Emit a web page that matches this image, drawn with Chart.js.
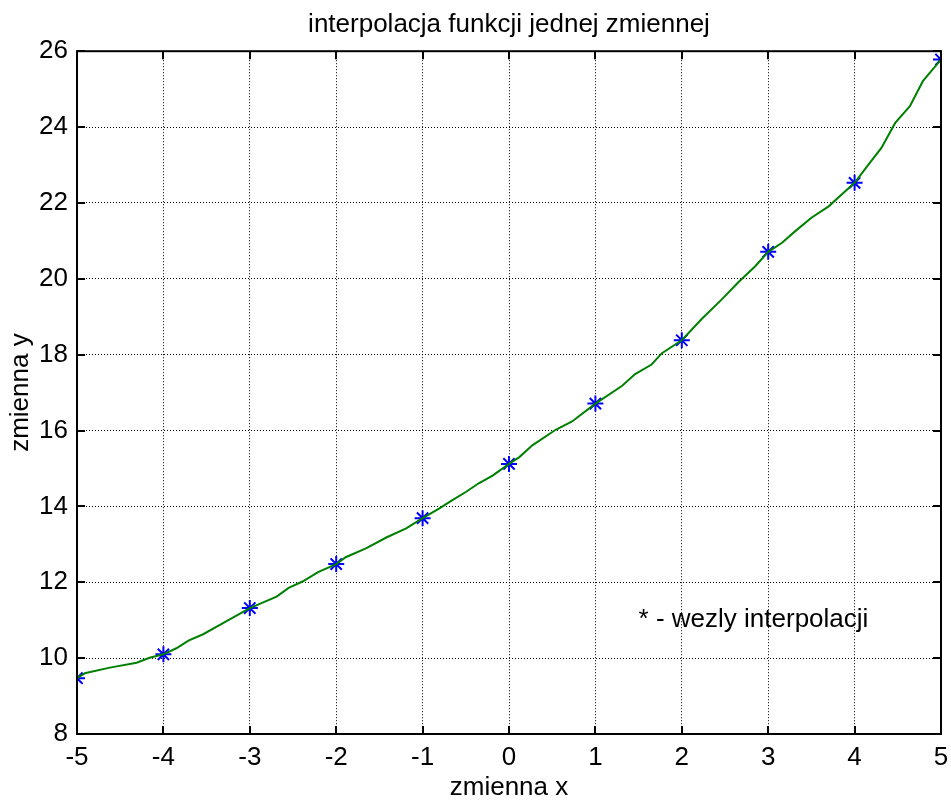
<!DOCTYPE html>
<html>
<head>
<meta charset="utf-8">
<title>interpolacja funkcji jednej zmiennej</title>
<script src="https://cdn.jsdelivr.net/npm/chart.js@4/dist/chart.umd.min.js"></script>
<style>
  html, body { margin: 0; padding: 0; background: #ffffff; }
  #chart { display: block; }
</style>
</head>
<body>
<canvas id="chart" width="951" height="803"></canvas>
<script>
// Interpolation nodes (blue stars)
const nodeX = [-5, -4, -3, -2, -1, 0, 1, 2, 3, 4, 5];
const nodeY = [9.47, 10.10, 11.32, 12.48, 13.69, 15.12, 16.71, 18.38, 20.71, 22.53, 25.78];

// Interpolating curve (green line)
const curveX = [-5.00, -4.91, -4.62, -4.31, -4.16, -4.00, -3.85, -3.71, -3.54, -3.31,
                -3.00, -2.69, -2.55, -2.39, -2.21, -2.00, -1.89, -1.65, -1.42, -1.19,
                -1.00, -0.81, -0.65, -0.50, -0.35, -0.19, 0.00, 0.12, 0.27, 0.54,
                0.73, 1.00, 1.31, 1.46, 1.65, 1.77, 2.00, 2.23, 2.46, 2.66,
                2.85, 3.00, 3.16, 3.31, 3.50, 3.70, 3.85, 4.00, 4.16, 4.31,
                4.47, 4.64, 4.79, 5.00];
const curveY = [9.47, 9.60, 9.75, 9.88, 10.01, 10.10, 10.26, 10.46, 10.63, 10.92,
                11.32, 11.62, 11.85, 12.02, 12.27, 12.48, 12.66, 12.90, 13.18, 13.42,
                13.69, 13.94, 14.17, 14.38, 14.61, 14.81, 15.12, 15.30, 15.61, 16.02,
                16.24, 16.71, 17.18, 17.49, 17.74, 18.04, 18.38, 18.94, 19.45, 19.92,
                20.33, 20.71, 20.95, 21.25, 21.61, 21.91, 22.22, 22.53, 23.01, 23.45,
                24.11, 24.55, 25.21, 25.78];

// Axis ranges and tick steps
const xRange = [-5, 5];
const yRange = [8, 26];
const xStep = 1;
const yStep = 2;

// Texts
const titleText = 'interpolacja funkcji jednej zmiennej';
const xLabel = 'zmienna x';
const yLabel = 'zmienna y';
const noteText = '* - wezly interpolacji';
const notePos = { x: 1.5, y: 11 };

const FONT = '"Liberation Sans", Arial, Helvetica, sans-serif';
const FONT_SIZE = 26;

const curvePoints = curveX.map((x, i) => ({ x: x, y: curveY[i] }));
const nodePoints = nodeX.map((x, i) => ({ x: x, y: nodeY[i] }));

// Axes box with inward tick marks on all four sides, plus the note text
const boxPlugin = {
  id: 'boxPlugin',
  afterDatasetsDraw(chart) {
    const ctx = chart.ctx;
    const xs = chart.scales.x;
    const ys = chart.scales.y;
    ctx.save();
    ctx.fillStyle = '#000';
    ctx.font = FONT_SIZE + 'px ' + FONT;
    ctx.textAlign = 'left';
    ctx.textBaseline = 'middle';
    ctx.fillText(noteText, xs.getPixelForValue(notePos.x), ys.getPixelForValue(notePos.y));
    ctx.restore();
  },
  afterDraw(chart) {
    const ctx = chart.ctx;
    const { left, right, top, bottom } = chart.chartArea;
    const xs = chart.scales.x;
    const ys = chart.scales.y;
    const tl = 8;
    ctx.save();
    ctx.strokeStyle = '#000';
    ctx.lineWidth = 2;
    ctx.beginPath();
    xs.ticks.forEach(t => {
      const px = Math.round(xs.getPixelForValue(t.value));
      ctx.moveTo(px, bottom); ctx.lineTo(px, bottom - tl);
      ctx.moveTo(px, top); ctx.lineTo(px, top + tl);
    });
    ys.ticks.forEach(t => {
      const py = Math.round(ys.getPixelForValue(t.value));
      ctx.moveTo(left, py); ctx.lineTo(left + tl, py);
      ctx.moveTo(right, py); ctx.lineTo(right - tl, py);
    });
    ctx.stroke();
    ctx.strokeRect(left, top, right - left, bottom - top);
    ctx.restore();
  }
};

new Chart(document.getElementById('chart'), {
  type: 'scatter',
  data: {
    datasets: [
      {
        label: 'interpolacja',
        data: curvePoints,
        showLine: true,
        borderColor: 'rgb(0,128,0)',
        borderWidth: 2,
        pointRadius: 0,
        tension: 0,
        fill: false
      },
      {
        label: 'wezly',
        data: nodePoints,
        showLine: false,
        pointStyle: 'star',
        pointRadius: 8,
        borderColor: 'rgb(0,0,255)',
        backgroundColor: 'rgb(0,0,255)',
        pointBorderWidth: 2
      }
    ]
  },
  options: {
    responsive: false,
    animation: false,
    devicePixelRatio: 1,
    layout: { padding: { left: 0, right: 8, top: 0, bottom: 0 } },
    plugins: {
      legend: { display: false },
      tooltip: { enabled: false },
      title: {
        display: true,
        text: titleText,
        fullSize: false,
        color: '#000',
        font: { family: FONT, size: FONT_SIZE, weight: 'normal' },
        padding: { top: 9, bottom: 11 }
      }
    },
    scales: {
      x: {
        type: 'linear',
        min: xRange[0],
        max: xRange[1],
        afterFit(scale) {
          scale.height = 69;
          scale.paddingLeft = 0;
          scale.paddingRight = 0;
        },
        ticks: {
          stepSize: xStep,
          color: '#000',
          padding: 8,
          font: { family: FONT, size: FONT_SIZE }
        },
        grid: { color: '#000', lineWidth: 1, drawTicks: false },
        border: { display: false, dash: [1, 2] },
        title: {
          display: true,
          text: xLabel,
          color: '#000',
          font: { family: FONT, size: FONT_SIZE },
          padding: { top: 0, bottom: 0 }
        }
      },
      y: {
        type: 'linear',
        min: yRange[0],
        max: yRange[1],
        afterFit(scale) {
          scale.width = 77;
          scale.paddingTop = 0;
          scale.paddingBottom = 0;
        },
        ticks: {
          stepSize: yStep,
          color: '#000',
          padding: 9,
          font: { family: FONT, size: FONT_SIZE }
        },
        grid: { color: '#000', lineWidth: 1, drawTicks: false },
        border: { display: false, dash: [1, 2] },
        title: {
          display: true,
          text: yLabel,
          color: '#000',
          font: { family: FONT, size: FONT_SIZE },
          padding: { top: 5, bottom: 0 }
        }
      }
    }
  },
  plugins: [boxPlugin]
});
</script>
</body>
</html>
